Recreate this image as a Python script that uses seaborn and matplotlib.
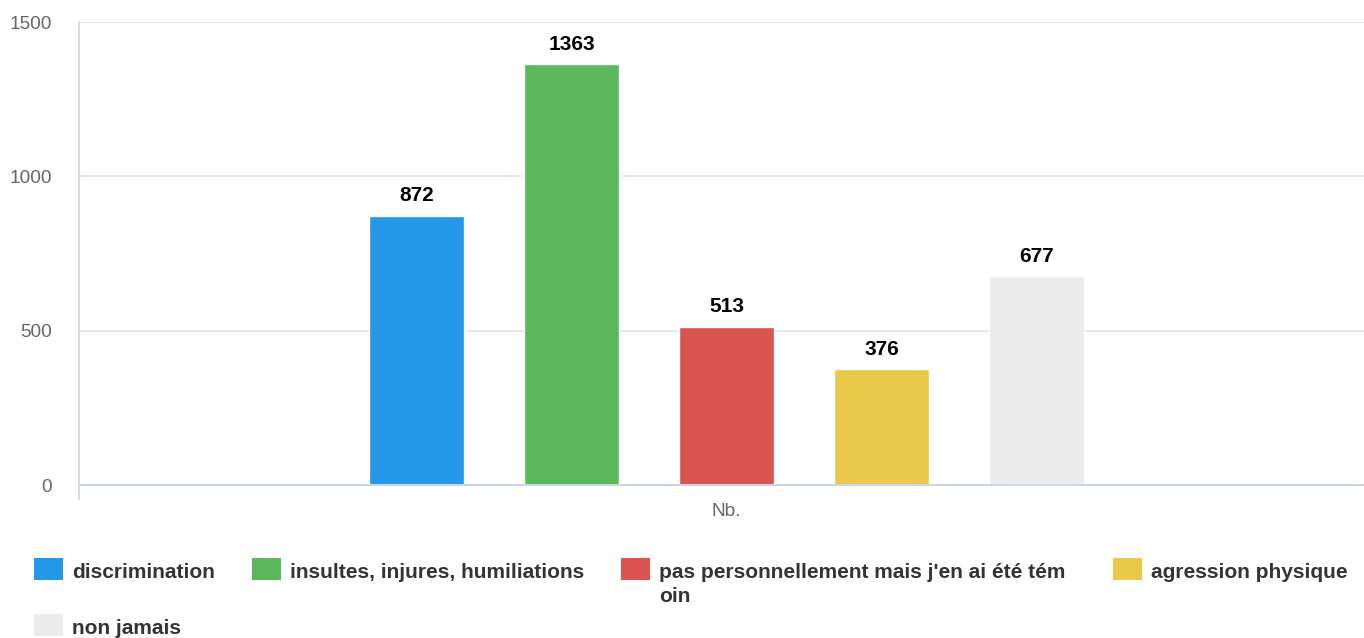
import matplotlib
matplotlib.use("Agg")
import matplotlib.pyplot as plt
from matplotlib.patches import Rectangle
import seaborn as sns

# data
categories = [
    "discrimination",
    "insultes, injures, humiliations",
    "pas personnellement mais j'en ai été tém\noin",
    "agression physique",
    "non jamais",
]
values = [872, 1363, 513, 376, 677]
colors = ["#2497e6", "#5cb85c", "#d9534f", "#e9c84a", "#ebebeb"]
group = ["Nb."] * len(values)

sns.set_style("white")
plt.rcParams["font.family"] = ["Liberation Sans", "DejaVu Sans"]

W, H = 1364, 638
fig = plt.figure(figsize=(W / 100, H / 100), dpi=100)
ax = fig.add_axes([79 / W, 1 - 485 / H, 1 - 79 / W, (485 - 22) / H])

sns.barplot(x=group, y=values, hue=categories, hue_order=categories,
            palette=colors, width=0.603, gap=0.39, saturation=1,
            legend=False, ax=ax)

for cont in ax.containers:
    ax.bar_label(cont, fmt="%d", padding=7.5, fontsize=15, fontweight="bold",
                 color="black")

ax.set_ylim(0, 1500)
ax.set_yticks([0, 500, 1000, 1500])
ax.set_xlim(-0.504, 0.496)
ax.yaxis.grid(True, color="#e3e3e3", linewidth=1.2)
ax.set_axisbelow(True)

for side in ["top", "right"]:
    ax.spines[side].set_visible(False)
ax.spines["left"].set_color("#ccd6eb")
ax.spines["bottom"].set_color("#ccd6eb")
ax.spines["bottom"].set_linewidth(1.5)
ax.spines["left"].set_linewidth(1.2)

ax.tick_params(axis="y", left=False, length=0, pad=19.5, labelsize=13.7,
               labelcolor="#666666")
ax.tick_params(axis="x", which="major", bottom=True, length=0, pad=13,
               labelsize=13.7, labelcolor="#666666")
ax.set_xticks([-0.504], minor=True)
ax.tick_params(axis="x", which="minor", bottom=True, length=11, width=1.2,
               color="#ccd6eb")
ax.set_xlabel("")
ax.set_ylabel("")

# legend drawn item by item (pixel layout from the reference)
leg_pos = [(34, 558), (252, 558), (621, 558), (1113, 558), (34, 614)]
sw, sh = 29, 22
for (px, py), lab, col in zip(leg_pos, categories, colors):
    fig.add_artist(Rectangle((px / W, 1 - (py + sh) / H), sw / W, sh / H,
                             transform=fig.transFigure, color=col, lw=0))
    fig.text((px + sw + 9) / W, 1 - (py + 5) / H, lab, ha="left", va="top",
             fontsize=15, fontweight="bold", color="#333333", linespacing=1.3)

fig.savefig("out.png", dpi=100)
